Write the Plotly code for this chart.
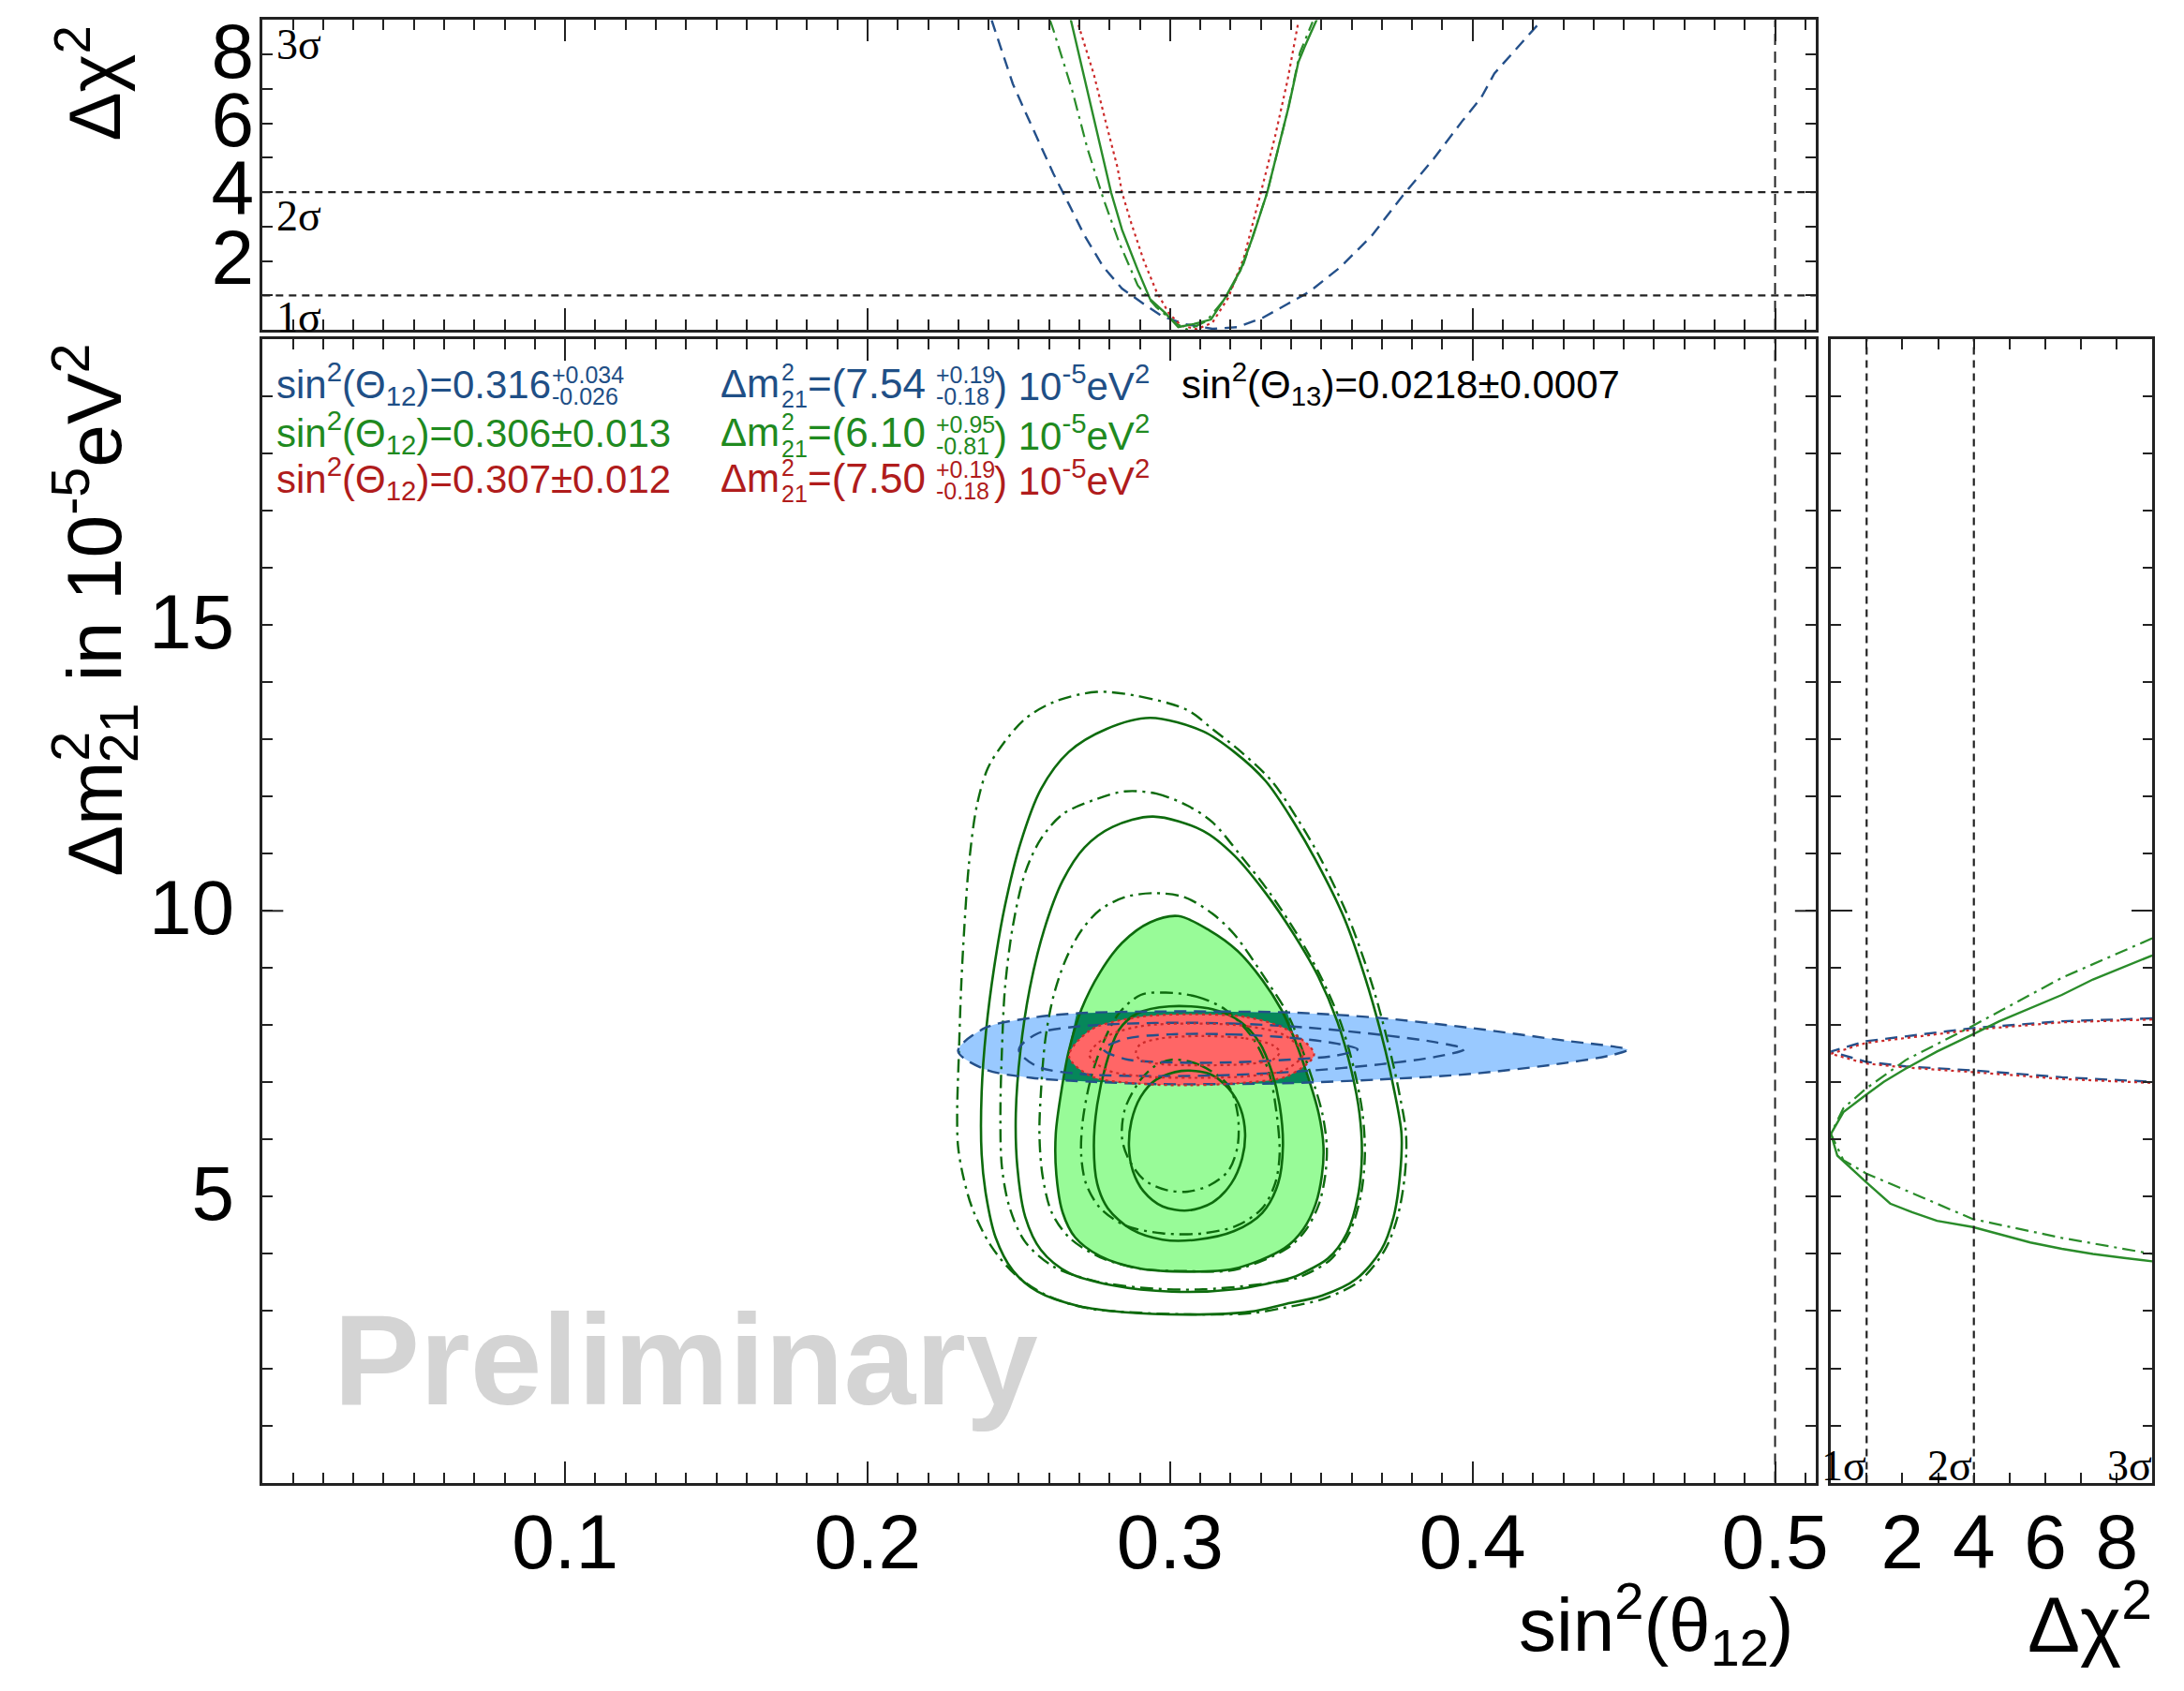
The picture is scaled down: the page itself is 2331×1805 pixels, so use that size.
import plotly.graph_objects as go

W, H = 2331, 1805
OFF = 8                 # default page body margin; the figure is placed inside it
SX, CX = 0.9945, -1.0   # observed horizontal capture scale / shift, compensated below
CY = -3.0               # observed vertical shift, compensated below

# ---------------- data ----------------
# Main panel: sin^2(theta12) vs dm2_21 [1e-5 eV^2]
# Solar (green) solid contours, 5 levels; S3 is filled
s1_x = [0.2934,0.3109,0.3212,0.3316,0.3409,0.3481,0.3575,0.3656,0.3712,0.3742,0.3765,0.3760,0.3739,0.3698,0.3615,0.3502,0.3378,0.3264,0.3058,0.2851,0.2696,0.2562,0.2480,0.2423,0.2392,0.2377,0.2377,0.2392,0.2418,0.2454,0.2505,0.2573,0.2665,0.2789,0.2934]
s1_y = [13.375,13.14,12.78,12.27,11.55,10.89,9.88,8.64,7.55,6.83,6.10,5.38,4.65,4.07,3.56,3.27,3.12,2.99,2.94,2.98,3.09,3.34,3.71,4.29,5.01,5.74,6.83,7.92,9.0,10.09,11.18,12.13,12.78,13.18,13.375]
s2_x = [0.2944,0.3109,0.3212,0.3316,0.3409,0.3490,0.3553,0.3600,0.3626,0.3634,0.3621,0.3584,0.3522,0.3440,0.3400,0.3212,0.3006,0.2810,0.2665,0.2573,0.2521,0.2495,0.2490,0.2505,0.2536,0.2583,0.2645,0.2717,0.2810,0.2944]
s2_y = [11.65,11.40,10.97,10.31,9.59,8.85,8.06,7.19,6.46,5.74,5.01,4.36,3.92,3.67,3.58,3.38,3.34,3.45,3.67,4.07,4.65,5.52,6.46,7.55,8.64,9.66,10.53,11.11,11.47,11.65]
s3_x = [0.3027,0.3130,0.3223,0.3305,0.3367,0.3399,0.3450,0.3491,0.3507,0.3502,0.3481,0.3440,0.3378,0.3212,0.3058,0.2903,0.2769,0.2686,0.2645,0.2624,0.2622,0.2640,0.2665,0.2707,0.2769,0.2841,0.2934,0.3027]
s3_y = [9.91,9.66,9.30,8.79,8.28,7.92,7.19,6.46,5.88,5.38,4.87,4.43,4.10,3.74,3.69,3.74,3.96,4.29,4.72,5.38,6.10,6.83,7.55,8.28,8.93,9.44,9.80,9.91]
s4_x = [0.2997,0.3140,0.3233,0.3295,0.3336,0.3362,0.3373,0.3357,0.3305,0.3212,0.3089,0.2975,0.2872,0.2794,0.2759,0.2748,0.2759,0.2789,0.2831,0.2893,0.2997]
s4_y = [8.33,8.28,8.06,7.70,7.19,6.61,5.88,5.23,4.72,4.40,4.25,4.25,4.43,4.80,5.23,5.88,6.61,7.33,7.92,8.21,8.33]
s5_x = [0.3037,0.3130,0.3192,0.3233,0.3248,0.3238,0.3202,0.3140,0.3058,0.2975,0.2913,0.2877,0.2864,0.2872,0.2903,0.2954,0.3037]
s5_y = [7.20,7.15,6.90,6.54,6.10,5.67,5.23,4.90,4.76,4.83,5.09,5.45,5.88,6.32,6.75,7.05,7.20]
# Solar (green) dash-dotted contours, 5 levels
d1_x = [0.2757,0.2900,0.3058,0.3140,0.3235,0.3336,0.3428,0.3500,0.3590,0.3672,0.3727,0.3757,0.3780,0.3776,0.3752,0.3710,0.3625,0.3510,0.3378,0.3264,0.3109,0.2903,0.2727,0.2594,0.2490,0.2408,0.2346,0.2315,0.2299,0.2296,0.2302,0.2309,0.2320,0.2335,0.2361,0.2397,0.2449,0.2521,0.2614,0.2757]
d1_y = [13.83,13.75,13.51,13.18,12.78,12.27,11.55,10.89,9.88,8.64,7.55,6.83,6.10,5.38,4.65,4.07,3.52,3.22,3.06,2.96,2.94,2.97,3.05,3.27,3.63,4.14,4.80,5.38,5.88,6.46,7.55,8.64,9.73,10.82,11.84,12.49,12.93,13.36,13.65,13.83]
d2_x = [0.2851,0.2955,0.3058,0.3140,0.3230,0.3330,0.3420,0.3498,0.3563,0.3610,0.3636,0.3644,0.3630,0.3592,0.3530,0.3448,0.3400,0.3109,0.2903,0.2748,0.2614,0.2521,0.2470,0.2444,0.2439,0.2444,0.2454,0.2480,0.2521,0.2573,0.2645,0.2748,0.2851]
d2_y = [12.09,12.05,11.84,11.55,10.99,10.31,9.59,8.85,8.06,7.19,6.46,5.74,5.01,4.36,3.90,3.64,3.55,3.38,3.41,3.53,3.78,4.21,4.80,5.52,6.46,7.55,8.64,9.73,10.67,11.26,11.69,11.94,12.09]
d3_x = [0.2944,0.3047,0.3140,0.3212,0.3318,0.3380,0.3412,0.3462,0.3503,0.3518,0.3513,0.3492,0.3450,0.3388,0.3212,0.3058,0.2903,0.2769,0.2666,0.2609,0.2578,0.2568,0.2573,0.2588,0.2614,0.2655,0.2707,0.2769,0.2851,0.2944]
d3_y = [10.31,10.24,9.95,9.59,8.79,8.28,7.92,7.19,6.46,5.88,5.38,4.87,4.43,4.10,3.72,3.70,3.74,3.94,4.29,4.72,5.38,6.10,6.83,7.77,8.50,9.15,9.66,10.02,10.24,10.31]
d4_x = [0.2986,0.3088,0.3181,0.3274,0.3326,0.3352,0.3362,0.3347,0.3305,0.3223,0.3109,0.2975,0.2851,0.2769,0.2722,0.2706,0.2711,0.2737,0.2779,0.2831,0.2903,0.2986]
d4_y = [8.57,8.50,8.28,7.77,7.19,6.46,5.74,5.23,4.80,4.50,4.36,4.36,4.50,4.80,5.23,5.74,6.32,7.05,7.70,8.21,8.53,8.57]
d5_x = [0.3010,0.3100,0.3192,0.3223,0.3223,0.3192,0.3130,0.3058,0.2986,0.2913,0.2862,0.2841,0.2851,0.2903,0.2954,0.3010]
d5_y = [7.40,7.30,6.95,6.46,5.88,5.45,5.20,5.09,5.12,5.30,5.67,6.03,6.54,7.05,7.30,7.40]
# KamLAND (blue) dashed contours, 3 levels; B3 filled
b3_x = [0.2955,0.3161,0.3409,0.3688,0.3997,0.4307,0.4462,0.4513,0.4462,0.4307,0.3997,0.3688,0.3409,0.3161,0.2955,0.2748,0.2542,0.2387,0.2299,0.2387,0.2542,0.2697,0.2955]
b3_y = [8.24,8.24,8.22,8.13,7.95,7.73,7.63,7.57,7.48,7.34,7.15,7.05,6.99,6.97,6.97,7.01,7.08,7.23,7.55,7.95,8.13,8.21,8.24]
b2_x = [0.2950,0.3200,0.3450,0.3700,0.3880,0.3972,0.3880,0.3700,0.3450,0.3200,0.2950,0.2700,0.2560,0.2500,0.2560,0.2700,0.2950]
b2_y = [8.04,8.03,7.96,7.83,7.70,7.58,7.45,7.32,7.20,7.13,7.11,7.15,7.28,7.57,7.85,7.98,8.04]
b1_x = [0.3000,0.3200,0.3400,0.3550,0.3620,0.3550,0.3400,0.3200,0.3000,0.2850,0.2780,0.2850,0.3000]
b1_y = [7.84,7.84,7.78,7.68,7.58,7.47,7.40,7.35,7.35,7.41,7.58,7.76,7.84]
# Combined (red) dotted contours, 3 levels; R3 filled
r3_x = [0.3068,0.3254,0.3388,0.3476,0.3388,0.3254,0.3068,0.2893,0.2738,0.2666,0.2738,0.2893,0.3068]
r3_y = [8.19,8.14,7.92,7.49,7.11,7.00,6.95,6.98,7.11,7.46,7.92,8.14,8.19]
r2_x = [0.3080,0.3260,0.3380,0.3440,0.3380,0.3260,0.3080,0.2900,0.2790,0.2733,0.2790,0.2900,0.3080]
r2_y = [8.03,7.98,7.82,7.50,7.22,7.11,7.08,7.11,7.22,7.48,7.80,7.98,8.03]
r1_x = [0.3110,0.3250,0.3340,0.3362,0.3340,0.3250,0.3110,0.2970,0.2900,0.2887,0.2900,0.2970,0.3110]
r1_y = [7.81,7.77,7.65,7.53,7.40,7.32,7.30,7.32,7.40,7.52,7.66,7.77,7.81]
# overlap of KamLAND 3 sigma and solar 3 sigma regions (dark teal band)
ov_x = [0.2691,0.2955,0.3161,0.3388,0.3420,0.3460,0.3161,0.2955,0.2748,0.2645,0.2665,0.2691]
ov_y = [8.21,8.24,8.24,8.22,7.60,6.99,6.97,6.97,7.01,7.04,7.60,8.21]

# Top panel: delta chi2 profiles vs sin^2(theta12)
kp_x = [0.2410,0.2480,0.2521,0.2562,0.2614,0.2666,0.2717,0.2779,0.2841,0.2913,0.2975,0.3047,0.3140,0.3223,0.3306,0.3388,0.3461,0.3564,0.3667,0.3770,0.3873,0.3966,0.4028,0.4072,0.4229]
kp_y = [9.0,7.15,6.34,5.53,4.54,3.64,2.74,1.83,1.20,0.75,0.39,0.17,0.03,0.08,0.35,0.75,1.11,1.83,2.74,3.91,4.99,6.07,6.74,7.45,9.0]
sp_x = [0.2671,0.2707,0.2743,0.2779,0.2805,0.2841,0.2893,0.2934,0.2985,0.3027,0.3078,0.3135,0.3182,0.3233,0.3275,0.3321,0.3357,0.3393,0.3424,0.3445,0.3486]
sp_y = [9.04,7.69,6.34,4.99,3.99,2.91,1.74,0.89,0.48,0.08,0.17,0.30,0.93,1.74,2.74,3.99,5.26,6.52,7.78,8.23,9.04]
dp_x = [0.2603,0.2614,0.2676,0.2727,0.2779,0.2831,0.2893,0.2954,0.3016,0.3058,0.3120,0.3192,0.3243,0.3321,0.3388,0.3429,0.3471]
dp_y = [9.0,8.72,6.97,5.26,3.82,2.55,1.29,0.66,0.21,0.0,0.25,1.02,1.92,3.99,6.34,8.05,8.95]
cp_x = [0.2697,0.2748,0.2789,0.2826,0.2841,0.2872,0.2913,0.2955,0.2996,0.3037,0.3089,0.3140,0.3192,0.3244,0.3300,0.3347,0.3388,0.3409,0.3424]
cp_y = [8.86,7.42,5.98,4.72,3.99,3.09,2.01,1.11,0.48,0.12,0.02,0.21,0.93,2.10,3.99,5.62,7.24,8.23,8.95]

# Right panel: delta chi2 profiles vs dm2_21
sr_chi = [8.99,8.20,7.33,6.46,5.58,4.71,3.97,2.97,2.09,1.48,0.98,0.35,0.0,0.18,0.98,1.66,2.27,2.97,3.97,4.71,5.58,6.46,7.33,8.20,8.99]
sr_dm = [9.22,9.02,8.80,8.53,8.30,8.07,7.84,7.54,7.24,7.01,6.78,6.48,6.10,5.72,5.26,4.88,4.73,4.58,4.47,4.35,4.20,4.09,4.00,3.93,3.87]
dr_chi = [8.99,6.46,3.97,2.09,0.98,0.35,0.0,0.35,0.98,2.09,3.97,6.46,8.99]
dr_dm = [9.52,8.83,7.99,7.39,6.89,6.55,6.10,5.64,5.41,5.11,4.61,4.28,4.00]
kr_chi = [8.99,6.46,3.97,2.09,0.98,0.0,0.98,2.09,3.97,6.46,8.99]
kr_dm = [8.12,8.07,7.95,7.80,7.72,7.54,7.36,7.28,7.21,7.09,7.01]
cr_chi = [8.99,6.46,3.97,2.09,0.98,0.0,0.98,2.09,3.97,6.46,8.99]
cr_dm = [8.10,8.05,7.92,7.77,7.69,7.50,7.33,7.26,7.18,7.06,6.99]

# reference levels
sigma_levels = [1, 4, 9]
sigma_names = ["1σ", "2σ", "3σ"]
maximal_mixing = 0.5

# ticks
main_x_ticks = [0.1, 0.2, 0.3, 0.4, 0.5]
main_y_ticks = [5, 10, 15]
chi_ticks = [2, 4, 6, 8]

# ---------------- styles ----------------
C_GREEN_LINE = "#0d6b0d"
C_GREEN_PROF = "#2a8c2a"
C_GREEN_FILL = "#98fb98"
C_BLUE_LINE = "#24508a"
C_BLUE_FILL = "#99c9ff"
C_RED_LINE = "#cc2a2a"
C_RED_FILL = "#ff6666"
C_TEAL = "#06875a"
T_BLUE = "#1f4f86"
T_GREEN = "#1f8a1f"
T_RED = "#b01c1c"

DASH = "13px,8px"
DOT = "3px,4px"
DASHDOT = "14px,6px,3px,6px"

fig = go.Figure()


def curve(x, y, xa, ya, color, width, dash, shape="spline", fillcolor=None):
    fig.add_trace(go.Scatter(
        x=x, y=y, xaxis=xa, yaxis=ya, mode="lines",
        line=dict(color=color, width=width, dash=dash, shape=shape, smoothing=0.9),
        fill="toself" if fillcolor else None, fillcolor=fillcolor,
        hoverinfo="skip", showlegend=False))


# fills
curve(s3_x, s3_y, "x", "y", "rgba(0,0,0,0)", 0, "solid", fillcolor=C_GREEN_FILL)
curve(b3_x, b3_y, "x", "y", "rgba(0,0,0,0)", 0, "solid", fillcolor=C_BLUE_FILL)
curve(ov_x, ov_y, "x", "y", "rgba(0,0,0,0)", 0, "solid", shape="linear", fillcolor=C_TEAL)
curve(r3_x, r3_y, "x", "y", "rgba(0,0,0,0)", 0, "solid", fillcolor=C_RED_FILL)

# green contours
for cx, cy in [(s1_x, s1_y), (s2_x, s2_y), (s3_x, s3_y), (s4_x, s4_y), (s5_x, s5_y)]:
    curve(cx, cy, "x", "y", C_GREEN_LINE, 2.6, "solid")
for cx, cy in [(d1_x, d1_y), (d2_x, d2_y), (d3_x, d3_y), (d4_x, d4_y), (d5_x, d5_y)]:
    curve(cx, cy, "x", "y", C_GREEN_LINE, 2.4, DASHDOT)
# blue contours
for cx, cy in [(b3_x, b3_y), (b2_x, b2_y), (b1_x, b1_y)]:
    curve(cx, cy, "x", "y", C_BLUE_LINE, 2.4, DASH)
# red contours
for cx, cy in [(r3_x, r3_y), (r2_x, r2_y), (r1_x, r1_y)]:
    curve(cx, cy, "x", "y", C_RED_LINE, 2.2, DOT)

# top panel profiles
curve(kp_x, kp_y, "x2", "y2", C_BLUE_LINE, 2.4, DASH, shape="linear")
curve(dp_x, dp_y, "x2", "y2", C_GREEN_PROF, 2.2, DASHDOT, shape="linear")
curve(cp_x, cp_y, "x2", "y2", C_RED_LINE, 2.2, DOT, shape="linear")
curve(sp_x, sp_y, "x2", "y2", C_GREEN_PROF, 2.4, "solid", shape="linear")

# right panel profiles
curve(kr_chi, kr_dm, "x3", "y3", C_BLUE_LINE, 2.4, DASH, shape="linear")
curve(cr_chi, cr_dm, "x3", "y3", C_RED_LINE, 2.2, DOT, shape="linear")
curve(dr_chi, dr_dm, "x3", "y3", C_GREEN_PROF, 2.2, DASHDOT, shape="linear")
curve(sr_chi, sr_dm, "x3", "y3", C_GREEN_PROF, 2.4, "solid", shape="linear")

# ---------------- layout ----------------
FW, FH = W - 2 * OFF, H - 2 * OFF


def px(x):
    return ((x - CX) / SX - OFF) / FW


def py(y):
    return min(1.0, max(0.0, 1 - (y + CY - OFF) / FH))


X_MAIN = [px(279.3), px(1937)]
X_RIGHT = [px(1953.3), px(2296.7)]
Y_MAIN = [py(1584), py(354.5)]
Y_TOP = [py(344.5), py(11.5)]

TICKFONT = dict(family="Liberation Sans, Arial, sans-serif", size=82, color="black")


def ax(**kw):
    base = dict(showline=True, linecolor="#222", linewidth=2.5, mirror="ticks",
                ticks="inside", tickcolor="#222", tickwidth=2, showgrid=False,
                zeroline=False, tickfont=TICKFONT, tickmode="array", fixedrange=True,
                ticklabeloverflow="allow")
    base.update(kw)
    return base


def minor(d):
    return dict(tickmode="linear", tick0=0, dtick=d, ticks="inside", ticklen=11,
                tickwidth=2, tickcolor="#222", showgrid=False)


XR = [0, 0.5134]
# y tick labels are nudged a hair up so their glyphs centre on the tick (as in the reference);
# the tick marks themselves come from the minor ticks at every integer
fig.update_layout(
    width=FW, height=FH, margin=dict(l=0, r=0, t=0, b=0), autosize=False,
    paper_bgcolor="white", plot_bgcolor="white", showlegend=False,
    xaxis=ax(domain=X_MAIN, anchor="y", range=XR, tickvals=main_x_ticks,
             ticktext=[f"{v:.1f}" for v in main_x_ticks], ticklen=23, minor=minor(0.01),
             ticklabelstandoff=-10),
    yaxis=ax(domain=Y_MAIN, anchor="x", range=[0, 20], tickvals=[v + 0.06 for v in main_y_ticks],
             ticktext=[str(v) for v in main_y_ticks], ticklen=0, minor=minor(1),
             ticklabelstandoff=11),
    xaxis2=ax(domain=X_MAIN, anchor="y2", range=XR, tickvals=main_x_ticks, ticklen=23,
              showticklabels=False, minor=minor(0.01)),
    yaxis2=ax(domain=Y_TOP, anchor="x2", range=[0, 9], tickvals=[v + 0.12 for v in chi_ticks],
              ticktext=[str(v) for v in chi_ticks], ticklen=0, minor=minor(1),
              ticklabelstandoff=-10),
    xaxis3=ax(domain=X_RIGHT, anchor="y3", range=[0, 9], tickvals=chi_ticks,
              ticktext=[str(v) for v in chi_ticks], ticklen=11, minor=minor(1),
              ticklabelstandoff=-10),
    yaxis3=ax(domain=Y_MAIN, anchor="x3", range=[0, 20], tickvals=[10], ticklen=23,
              showticklabels=False, minor=minor(1)),
)

shapes = []
LINE_REF = dict(color="#222", width=2.2, dash="8px,6px")
# long ticks at dm2 = 10 on main panel edges
for x0, x1 in [(0, 22 / 1657.7), (1 - 22 / 1657.7, 1)]:
    shapes.append(dict(type="line", xref="x domain", yref="y", x0=x0, x1=x1, y0=10, y1=10,
                       line=dict(color="#222", width=2)))
# maximal mixing line
shapes.append(dict(type="line", xref="x", yref="y domain", x0=maximal_mixing, x1=maximal_mixing,
                   y0=0, y1=1, line=dict(color="#222", width=2, dash="12px,7px")))
shapes.append(dict(type="line", xref="x2", yref="y2 domain", x0=maximal_mixing, x1=maximal_mixing,
                   y0=0, y1=1, line=dict(color="#222", width=2, dash="12px,7px")))
# sigma levels
for lv in sigma_levels[:2]:
    shapes.append(dict(type="line", xref="x2 domain", yref="y2", x0=0, x1=1, y0=lv, y1=lv,
                       line=LINE_REF))
    shapes.append(dict(type="line", xref="x3", yref="y3 domain", x0=lv, x1=lv, y0=0, y1=1,
                       line=LINE_REF))
fig.update_layout(shapes=shapes)

ann = []
SANS = "Liberation Sans, Arial, sans-serif"
SERIF = "Liberation Serif, Times New Roman, serif"


def text(t, x, y, size, color="black", xanchor="left", yanchor="middle", family=SANS,
         angle=0, bold=False):
    if bold:
        t = "<b>" + t + "</b>"
    ann.append(dict(text=t, x=px(x), y=py(y), xref="paper", yref="paper", showarrow=False,
                    xanchor=xanchor, yanchor=yanchor, textangle=angle,
                    font=dict(family=family, size=size, color=color)))


# sigma labels, top panel (hang below their level line)
text(sigma_names[2], 292, 38, 46, family=SERIF)
text(sigma_names[1], 292, 222, 46, family=SERIF)
text(sigma_names[0], 292, 331, 46, family=SERIF)
# sigma labels, right panel (left of their level line, at the bottom)
text(sigma_names[0], 1993, 1566, 46, family=SERIF, xanchor="right")
text(sigma_names[1], 2106, 1566, 46, family=SERIF, xanchor="right")
text(sigma_names[2], 2298, 1566, 46, family=SERIF, xanchor="right")

# axis titles
text("Δχ<sup>2</sup>", 95, 80, 78, angle=-90, xanchor="center")
# main y title in two pieces so that the "2" and "21" stack over each other
text("Δm<sup>2</sup>", 94, 935, 82, angle=-90, xanchor="center", yanchor="bottom")
text("<sub>21</sub> in 10<sup>-5</sup>eV<sup>2</sup>", 100, 812, 82, angle=-90,
     xanchor="center", yanchor="bottom")
text("sin<sup>2</sup>(θ<sub>12</sub>)", 1916, 1736, 80, xanchor="right")
text("Δχ<sup>2</sup>", 2298, 1730, 84, xanchor="right")

# watermark
text("Preliminary", 353, 1451, 138, color="#d4d4d4", bold=True)

# fit results
FS = 42
SS = 25
rows = [
    (402, T_BLUE, "sin<sup>2</sup>(Θ<sub>12</sub>)=0.316", ("+0.034", "-0.026"), "=(7.54", ("+0.19", "-0.18")),
    (455, T_GREEN, "sin<sup>2</sup>(Θ<sub>12</sub>)=0.306±0.013", None, "=(6.10", ("+0.95", "-0.81")),
    (504, T_RED, "sin<sup>2</sup>(Θ<sub>12</sub>)=0.307±0.012", None, "=(7.50", ("+0.19", "-0.18")),
]
for yc, col, s12, s12err, dm, dmerr in rows:
    text(s12, 292, yc, FS, color=col)
    if s12err:
        text(s12err[0], 586, yc - 9, SS, color=col)
        text(s12err[1], 586, yc + 14, SS, color=col)
    text("Δm", 766, yc, FS, color=col)
    text("2", 831, yc - 12, SS, color=col)
    text("21", 831, yc + 17, SS, color=col)
    text(dm, 859, yc, 44, color=col)
    text(dmerr[0], 996, yc - 9, SS, color=col)
    text(dmerr[1], 996, yc + 14, SS, color=col)
    text(") 10<sup>-5</sup>eV<sup>2</sup>", 1058, yc, FS, color=col)
text("sin<sup>2</sup>(Θ<sub>13</sub>)=0.0218±0.0007", 1258, 402, FS)

fig.update_layout(annotations=ann)
fig.write_html("out.html")
